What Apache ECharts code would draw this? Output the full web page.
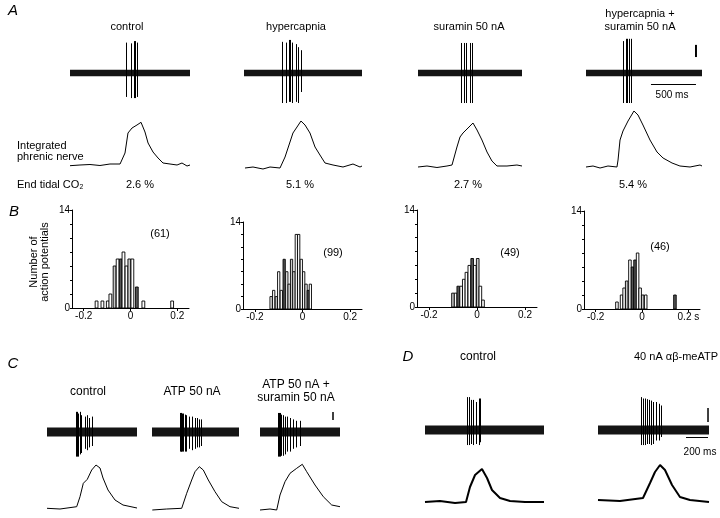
<!DOCTYPE html>
<html><head><meta charset="utf-8">
<script src="https://cdn.jsdelivr.net/npm/echarts@6/dist/echarts.min.js"></script>
<style>html,body{margin:0;padding:0;background:#fff}#c{width:720px;height:518px}</style>
</head><body><div id="c"></div>
<script>
// ---------------- DATA ----------------
// Panel A
const aTitles = ['control', 'hypercapnia', 'suramin 50 nA', 'hypercapnia +\nsuramin 50 nA'];
const aCO2 = ['2.6 %', '5.1 %', '2.7 %', '5.4 %'];
const aDur = [1333, 1311, 1156, 1289];            // ms shown per trace
const spikesCtrlA = [[628,-0.63,0.8],[683,-0.66,0.78],[711,-0.66,0.84],[728,-0.66,0.84],[750,-0.63,0.8]];
const spikesHypA = [[433,-0.79,0.82],[467,-0.79,0.8],[500,-0.76,0.87],[522,-0.76,0.87],[544,-0.79,0.8],[578,-0.76,0.76],[611,-0.79,0.68],[644,-0.5,0.6]];
const spikesSurA = [[489,-0.79,0.79],[522,-0.79,0.79],[544,-0.79,0.79],[578,-0.79,0.79],[611,-0.79,0.79]];
const spikesHypSurA = [[415,-0.79,0.84],[452,-0.79,0.9],[466,-0.79,0.9],[481,-0.79,0.9],[507,-0.79,0.9]];
const intCtrlA = [[0,0.93],[111,1.0],[222,1.05],[333,0.95],[444,1.1],[556,1.1],[611,2.2],[644,4.2],[689,4.7],[744,5.0],[789,5.27],[833,4.3],[867,3.2],[922,2.3],[978,1.7],[1033,1.2],[1111,1.1],[1189,1.0],[1244,1.2],[1300,0.9],[1333,1.0]];
const intHypA = [[11,0.7],[100,0.8],[211,0.6],[289,0.8],[400,0.7],[456,1.8],[511,3.3],[544,4.2],[589,4.8],[633,5.4],[678,5.0],[733,4.2],[789,2.8],[844,2.0],[900,1.2],[989,1.0],[1100,0.8],[1211,1.1],[1289,0.8],[1311,0.9]];
const intSurA = [[0,0.8],[100,0.9],[211,0.75],[322,0.9],[378,1.0],[433,2.8],[467,3.8],[500,4.2],[556,4.7],[611,5.2],[656,4.5],[711,3.5],[767,2.3],[822,1.4],[878,0.9],[989,0.9],[1100,1.0],[1156,0.9]];
const intHypSurA = [[0,0.8],[78,0.9],[156,0.7],[244,0.9],[344,0.8],[356,1.5],[378,3.5],[411,4.4],[467,5.4],[533,6.4],[578,6.0],[633,5.0],[711,3.5],[789,2.3],[856,1.7],[956,1.2],[1044,0.9],[1156,0.8],[1267,1.0],[1289,0.9]];

// Panel B (bin centre in s, number of action potentials)
const histCounts = ['(61)', '(99)', '(49)', '(46)'];
const hist1 = [[-0.145,1],[-0.12,1],[-0.097,1],[-0.086,2],[-0.068,6],[-0.055,7],[-0.042,7],[-0.03,8],[-0.017,6],[-0.005,7],[0.008,7],[0.027,3],[0.055,1],[0.178,1]];
const hist1Fill = ['w','w','w','w','g','w','d','w','w','g','w','d','w','w'];
const hist2 = [[-0.132,2],[-0.121,3],[-0.11,2],[-0.1,6],[-0.089,3],[-0.077,8],[-0.066,6],[-0.056,4],[-0.046,8],[-0.036,6],[-0.026,12],[-0.016,12],[-0.005,8],[0.005,6],[0.015,4],[0.024,3],[0.033,4]];
const hist2Fill = ['w','w','g','w','w','d','w','w','g','w','w','w','w','w','w','d','w'];
const hist3 = [[-0.1,2],[-0.089,2],[-0.078,3],[-0.066,3],[-0.055,4],[-0.044,5],[-0.032,6],[-0.02,7],[-0.009,6],[0.003,7],[0.014,3],[0.025,1]];
const hist3Fill = ['g','w','d','w','w','w','w','d','w','g','w','w'];
const hist4 = [[-0.108,1],[-0.088,2],[-0.077,3],[-0.066,4],[-0.052,7],[-0.041,6],[-0.03,7],[-0.019,8],[-0.008,3],[0.003,2],[0.016,2],[0.142,2]];
const hist4Fill = ['w','w','w','g','w','d','d','w','w','g','w','d'];
const histTicks = [-0.2, 0, 0.2];
const histYTicks = [0, 14];

// Panel C
const cTitles = ['control', 'ATP 50 nA', 'ATP 50 nA +\nsuramin 50 nA'];
const cDur = [900, 870, 800];
const spikesCtrlC = [[290,-0.88,0.72],[303,-0.88,0.72],[317,-0.88,0.66],[330,-0.8,0.72],[347,-0.75,0.6],[380,-0.6,0.55],[403,-0.65,0.6],[423,-0.55,0.5],[457,-0.5,0.55]];
const spikesAtpC = [[280,-0.7,0.68],[290,-0.7,0.68],[297,-0.7,0.68],[305,-0.7,0.66],[313,-0.7,0.66],[330,-0.7,0.62],[347,-0.7,0.6],[373,-0.6,0.55],[407,-0.65,0.55],[430,-0.6,0.5],[453,-0.55,0.5],[473,-0.55,0.45],[497,-0.5,0.45]];
const spikesAtpSurC = [[183,-0.88,0.68],[192,-0.88,0.68],[200,-0.88,0.68],[217,-0.85,0.62],[233,-0.85,0.6],[250,-0.8,0.55],[273,-0.7,0.55],[300,-0.7,0.5],[333,-0.6,0.45],[367,-0.55,0.4],[400,-0.5,0.4]];
const intCtrlC = [[0,0.37],[130,0.3],[297,0.53],[330,1.53],[363,2.87],[403,3.27],[447,4.2],[490,4.7],[530,4.4],[560,3.4],[610,2.2],[680,1.2],[760,0.7],[900,0.4]];
const intAtpC = [[3,0.2],[147,0.3],[297,0.37],[347,1.87],[397,3.2],[430,4.03],[473,4.53],[513,4.2],[563,3.2],[630,2.03],[697,1.03],[780,0.53],[870,0.37]];
const intAtpSurC = [[0,0.2],[100,0.3],[167,0.2],[200,1.7],[250,3.03],[300,3.87],[367,4.37],[423,4.77],[467,4.03],[550,2.7],[633,1.53],[717,0.7],[800,0.53]];

// Panel D
const dTitles = ['control', '40 nA \u03b1\u03b2-meATP'];
const dDur = [1082, 1009];
const spikesCtrlD = [[385,-0.43,0.94],[403,-0.43,0.94],[425,-0.4,0.86],[445,-0.43,0.86],[470,-0.4,0.8],[494,-0.43,0.9],[506,-0.35,0.9]];
const spikesMeAtpD = [[397,-0.43,0.94],[412,-0.43,0.9],[430,-0.43,0.9],[448,-0.4,0.88],[466,-0.4,0.86],[488,-0.43,0.84],[509,-0.4,0.8],[533,-0.3,0.8],[557,-0.3,0.75],[579,-0.2,0.7]];
const intCtrlD = [[0,0.3],[136,0.4],[273,0.2],[373,0.3],[409,1.8],[455,3.0],[518,3.6],[564,2.7],[609,1.5],[682,0.7],[773,0.4],[909,0.3],[1082,0.3]];
const intMeAtpD = [[0,0.5],[200,0.4],[409,0.7],[473,2.2],[518,3.3],[564,4.0],[609,3.5],[673,2.0],[745,0.8],[836,0.5],[1009,0.3]];

// ---------------- BUILD ----------------
const FONT = 'Liberation Sans, Arial, sans-serif';
const grids = [], xAxes = [], yAxes = [], series = [], graphics = [];
const FILL = { w: '#ffffff', g: '#c8c8c8', d: '#555555' };
const snap = v => Math.round(v - 0.5) + 0.5;

function addGrid(box, xa, ya) {
  const i = grids.length;
  grids.push({ left: box[0], top: box[1], width: box[2], height: box[3], containLabel: false });
  xAxes.push(Object.assign({ gridIndex: i, type: 'value', show: false }, xa));
  yAxes.push(Object.assign({ gridIndex: i, type: 'value', show: false }, ya));
  return i;
}
function segSeries(gi, segs, color, width) {
  series.push({
    type: 'custom', xAxisIndex: gi, yAxisIndex: gi, silent: true, animation: false,
    data: segs,
    renderItem: (p, api) => {
      const a = api.coord([api.value(0), api.value(1)]);
      const b = api.coord([api.value(2), api.value(3)]);
      let x1 = a[0], x2 = b[0], y1 = a[1], y2 = b[1];
      if (width <= 1.2) {
        if (Math.abs(x1 - x2) < 0.01) { x1 = x2 = snap(x1); }
        if (Math.abs(y1 - y2) < 0.01) { y1 = y2 = snap(y1); }
      }
      return { type: 'line', shape: { x1: x1, y1: y1, x2: x2, y2: y2 }, style: { stroke: color, lineWidth: width } };
    }
  });
}
function bandSeries(gi, dur, amp) {
  series.push({
    type: 'custom', xAxisIndex: gi, yAxisIndex: gi, silent: true, animation: false,
    data: [[0, dur, amp]],
    renderItem: (p, api) => {
      const a = api.coord([api.value(0), api.value(2)]);
      const b = api.coord([api.value(1), -api.value(2)]);
      return { type: 'rect', shape: { x: a[0], y: a[1], width: b[0] - a[0], height: b[1] - a[1] }, style: { fill: '#151515' } };
    }
  });
}
function rawTrace(box, dur, amp, spikes) {
  const gi = addGrid(box, { min: 0, max: dur }, { min: -1, max: 1 });
  bandSeries(gi, dur, amp);
  segSeries(gi, spikes.map(s => [s[0], s[1], s[0], s[2]]), '#000', 1);
  return gi;
}
function intTrace(box, dur, ymax, pts, lw) {
  const gi = addGrid(box, { min: 0, max: dur }, { min: 0, max: ymax });
  series.push({ type: 'line', xAxisIndex: gi, yAxisIndex: gi, data: pts, symbol: 'none', showSymbol: false,
    lineStyle: { color: '#000', width: lw }, animation: false, silent: true });
  return gi;
}
function hist(box, data, fills, bin, last) {
  const gi = addGrid(box,
    { show: true, min: -0.25, max: 0.25,
      axisLine: { show: true, onZero: false, lineStyle: { color: '#000', width: 1 } },
      axisTick: { show: true, customValues: histTicks, length: 3, lineStyle: { color: '#000' } },
      axisLabel: { show: true, customValues: histTicks, color: '#000', fontSize: 10, fontFamily: FONT, margin: 3,
        formatter: v => (Math.abs(v) < 1e-9 ? '0' : (v < 0 ? '-0.2' : (last ? '0.2 s' : '0.2'))) },
      splitLine: { show: false } },
    { show: true, min: 0, max: 14, interval: 2,
      axisLine: { show: true, onZero: false, lineStyle: { color: '#000', width: 1 } },
      axisTick: { show: true, length: 2, lineStyle: { color: '#000' } },
      axisLabel: { show: true, color: '#000', fontSize: 10, fontFamily: FONT, margin: 2,
        formatter: v => (histYTicks.indexOf(v) >= 0 ? String(v) : '') },
      splitLine: { show: false } });
  series.push({
    type: 'custom', xAxisIndex: gi, yAxisIndex: gi, silent: true, animation: false,
    data: data,
    renderItem: (p, api) => {
      const x = api.value(0), n = api.value(1);
      const a = api.coord([x - bin / 2, n]);
      const b = api.coord([x + bin / 2, 0]);
      return { type: 'rect', shape: { x: a[0], y: a[1], width: b[0] - a[0], height: b[1] - a[1] },
        style: { fill: FILL[fills[p.dataIndex]], stroke: '#000', lineWidth: 0.9 } };
    }
  });
  return gi;
}
function text(str, x, y, opts) {
  opts = opts || {};
  graphics.push({ type: 'text', x: x, y: y, rotation: opts.rot || 0, silent: true,
    style: { text: str, fill: '#000', font: (opts.italic ? 'italic ' : '') + (opts.size || 11) + 'px ' + FONT,
      align: opts.align || 'center', verticalAlign: 'middle', lineHeight: opts.lh || 13 } });
}

// Panel A
const aRawBox = [[70,35,120,76],[244,35,118,76],[418,35,104,76],[586,35,116,76]];
const aIntBox = [[70,105,120,70],[244,105,118,70],[418,105,104,70],[586,105,116,70]];
const aSp = [spikesCtrlA, spikesHypA, spikesSurA, spikesHypSurA];
const aInt = [intCtrlA, intHypA, intSurA, intHypSurA];
let hsRaw;
for (let i = 0; i < 4; i++) {
  const g = rawTrace(aRawBox[i], aDur[i], 0.085, aSp[i]);
  if (i === 3) hsRaw = g;
  intTrace(aIntBox[i], aDur[i], 7, aInt[i], 1);
}
// scale bars (vertical and 500 ms)
segSeries(hsRaw, [[1222, 0.42, 1222, 0.74]], '#000', 2);
segSeries(hsRaw, [[722, -0.29, 1222, -0.29]], '#000', 1);

text('A', 13, 11, { italic: true, size: 15 });
const aTitleX = [127, 296, 469, 640];
for (let i = 0; i < 4; i++) {
  if (aTitles[i].indexOf('\n') >= 0) text(aTitles[i], aTitleX[i], 20, { lh: 13 });
  else text(aTitles[i], aTitleX[i], 27);
}
text('500 ms', 672, 95, { size: 10 });
text('Integrated\nphrenic nerve', 17, 151, { align: 'left', lh: 11 });
text('End tidal CO\u2082', 17, 185, { align: 'left' });
const aCO2X = [140, 300, 468, 633];
for (let i = 0; i < 4; i++) text(aCO2[i], aCO2X[i], 185);

// Panel B
hist([72,210,117,98], hist1, hist1Fill, 0.012, false);
hist([243,222,119,87], hist2, hist2Fill, 0.0095, false);
hist([417,210,120,97], hist3, hist3Fill, 0.011, false);
hist([584,211,116,98], hist4, hist4Fill, 0.011, true);
text('B', 14, 212, { italic: true, size: 15 });
text('Number of\naction potentials', 39, 262, { rot: Math.PI / 2, lh: 11 });
const cntPos = [[160,234],[333,253],[510,253],[660,247]];
for (let i = 0; i < 4; i++) text(histCounts[i], cntPos[i][0], cntPos[i][1]);

// Panel C
const cRawBox = [[47,404,90,56],[152,404,87,56],[260,404,80,56]];
const cIntBox = [[47,460,90,52],[152,460,87,52],[260,460,80,52]];
const cSp = [spikesCtrlC, spikesAtpC, spikesAtpSurC];
const cInt = [intCtrlC, intAtpC, intAtpSurC];
let cLast;
for (let i = 0; i < 3; i++) {
  const g = rawTrace(cRawBox[i], cDur[i], 0.16, cSp[i]);
  if (i === 2) cLast = g;
  intTrace(cIntBox[i], cDur[i], 5.2, cInt[i], 1);
}
segSeries(cLast, [[730, 0.43, 730, 0.71]], '#000', 1.5);
text('C', 13, 364, { italic: true, size: 15 });
text(cTitles[0], 88, 392, { size: 12 });
text(cTitles[1], 192, 392, { size: 12 });
text(cTitles[2], 296, 391, { size: 12, lh: 13 });

// Panel D
const dRawBox = [[425,395,119,70],[598,395,111,70]];
const dIntBox = [[425,460,119,45],[598,460,111,45]];
const dSp = [spikesCtrlD, spikesMeAtpD];
const dInt = [intCtrlD, intMeAtpD];
let dLast;
for (let i = 0; i < 2; i++) {
  const g = rawTrace(dRawBox[i], dDur[i], 0.13, dSp[i]);
  if (i === 1) dLast = g;
  intTrace(dIntBox[i], dDur[i], 4.5, dInt[i], 2);
}
segSeries(dLast, [[1000, 0.23, 1000, 0.63]], '#000', 1.5);
segSeries(dLast, [[800, -0.2, 1000, -0.2]], '#000', 1);
text('D', 408, 357, { italic: true, size: 15 });
text(dTitles[0], 478, 357, { size: 12 });
text(dTitles[1], 676, 357, { size: 11 });
text('200 ms', 700, 452, { size: 10 });

const chart = echarts.init(document.getElementById('c'));
chart.setOption({
  animation: false,
  backgroundColor: '#fff',
  grid: grids, xAxis: xAxes, yAxis: yAxes, series: series, graphic: graphics
});
</script>
</body></html>
